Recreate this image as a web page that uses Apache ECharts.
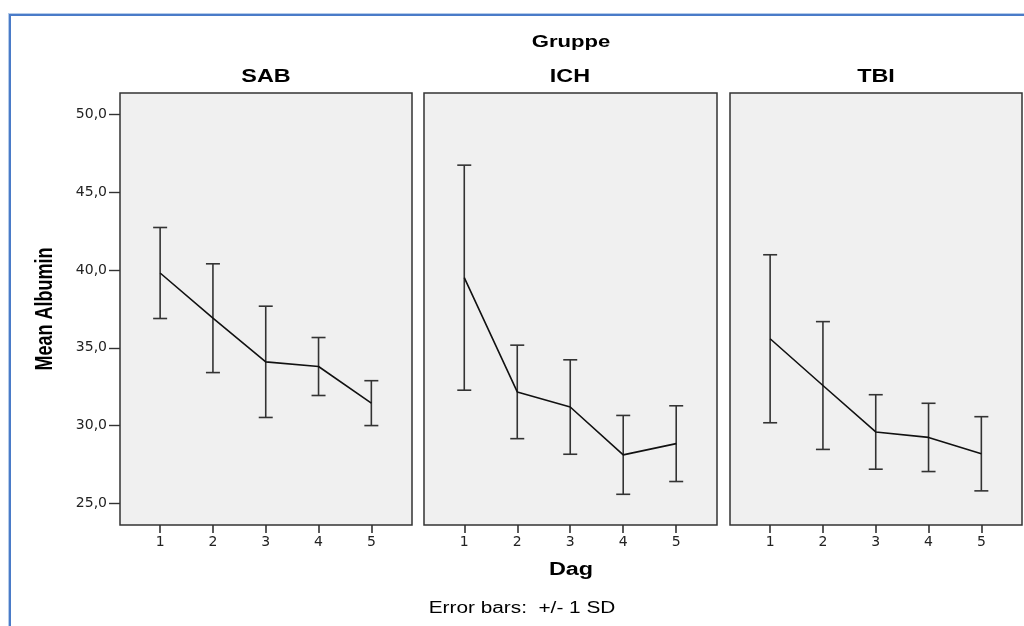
<!DOCTYPE html>
<html>
<head>
<meta charset="utf-8">
<style>
  html, body { margin: 0; padding: 0; background: #fff; }
  #chart { width: 1024px; height: 626px; }
  .frame-outer { position: absolute; left: 8px; top: 13px; width: 1200px; height: 800px;
    border-left: 1px solid #b4cbea; border-top: 1px solid #b4cbea; pointer-events: none; }
  .frame-inner { width: 100%; height: 100%; border-left: 2px solid #4a7bc8; border-top: 2px solid #4a7bc8; }
</style>
<script src="https://cdn.jsdelivr.net/npm/echarts@6/dist/echarts.min.js"></script>
</head>
<body>
<div id="chart"></div>
<div class="frame-outer"><div class="frame-inner"></div></div>
<script>
// days on the x axis
const days = [1, 2, 3, 4, 5]
const yTicks = [25, 30, 35, 40, 45, 50]
const groups = ['SAB', 'ICH', 'TBI']

// mean albumin and 1 SD per day
const sabMean = [39.8, 36.9, 34.1, 33.8, 31.45]
const sabSd = [2.92, 3.49, 3.57, 1.86, 1.44]
const ichMean = [39.5, 32.17, 31.2, 28.13, 28.85]
const ichSd = [7.22, 3.0, 3.03, 2.53, 2.43]
const tbiMean = [35.58, 32.58, 29.6, 29.25, 28.2]
const tbiSd = [5.39, 4.1, 2.39, 2.19, 2.38]

const means = [sabMean, ichMean, tbiMean]
const sds = [sabSd, ichSd, tbiSd]

const panels = [
  { left: 120, width: 292 },
  { left: 424, width: 293 },
  { left: 730, width: 292 }
]

const chart = echarts.init(document.getElementById('chart'))

const axisFont = 'DejaVu Sans'
const titleFont = '"Liberation Sans", Arial, sans-serif'

function errorBar(params, api) {
  const x = api.value(0)
  const top = api.coord([x, api.value(2)])
  const bot = api.coord([x, api.value(1)])
  const w = 7
  const style = { stroke: '#333', lineWidth: 1.6 }
  return {
    type: 'group',
    children: [
      { type: 'line', shape: { x1: top[0], y1: top[1], x2: bot[0], y2: bot[1] }, style },
      { type: 'line', shape: { x1: top[0] - w, y1: top[1], x2: top[0] + w, y2: top[1] }, style },
      { type: 'line', shape: { x1: bot[0] - w, y1: bot[1], x2: bot[0] + w, y2: bot[1] }, style }
    ]
  }
}

const grid = panels.map(p => ({
  left: p.left, top: 93, width: p.width, height: 432,
  show: true, backgroundColor: '#f0f0f0', borderColor: '#333', borderWidth: 1.5,
  outerBoundsMode: 'none'
}))

const xAxis = panels.map((p, i) => ({
  type: 'value', gridIndex: i, min: 0.24, max: 5.77,
  axisLine: { show: false },
  splitLine: { show: false },
  axisTick: { show: true, customValues: days, length: 8, lineStyle: { color: '#333', width: 1.6 } },
  axisLabel: { show: true, customValues: days, margin: 10, color: '#222', fontFamily: axisFont, fontSize: 14 }
}))

const yAxis = panels.map((p, i) => ({
  type: 'value', gridIndex: i, min: 23.63, max: 51.35,
  axisLine: { show: false },
  splitLine: { show: false },
  axisTick: { show: i === 0, customValues: yTicks, length: 11, lineStyle: { color: '#333', width: 1.4 } },
  axisLabel: {
    show: i === 0, customValues: yTicks, margin: 13, color: '#222', fontFamily: axisFont, fontSize: 14,
    formatter: v => v.toFixed(1).replace('.', ',')
  }
}))

const series = []
groups.forEach((g, i) => {
  series.push({
    name: g + ' SD', type: 'custom', xAxisIndex: i, yAxisIndex: i,
    renderItem: errorBar, z: 2,
    data: days.map((d, k) => [d, means[i][k] - sds[i][k], means[i][k] + sds[i][k]])
  })
  series.push({
    name: g, type: 'line', xAxisIndex: i, yAxisIndex: i, z: 3,
    showSymbol: false, symbol: 'none',
    lineStyle: { color: '#111', width: 1.6 },
    data: days.map((d, k) => [d, means[i][k]])
  })
})

function label(text, x, y, size, bold, extra) {
  return Object.assign({
    type: 'text', x: x, y: y, scaleX: 1.3, z: 10,
    style: {
      text: text, fill: '#000', align: 'center', verticalAlign: 'middle',
      font: (bold ? 'bold ' : '') + size + 'px ' + titleFont
    }
  }, extra || {})
}

chart.setOption({
  animation: false,
  grid: grid,
  xAxis: xAxis,
  yAxis: yAxis,
  series: series,
  graphic: [
    label('Gruppe', 571, 42, 17, true),
    label('SAB', 266, 77, 18, true),
    label('ICH', 570, 77, 18, true),
    label('TBI', 876, 77, 18, true),
    label('Dag', 571, 570, 18, true),
    label('Error bars:  +/- 1 SD', 522, 609, 16, false),
    label('Mean Albumin', 46, 309, 18, true, { rotation: Math.PI / 2, scaleX: 1, scaleY: 1.3 })
  ]
})
</script>
</body>
</html>
